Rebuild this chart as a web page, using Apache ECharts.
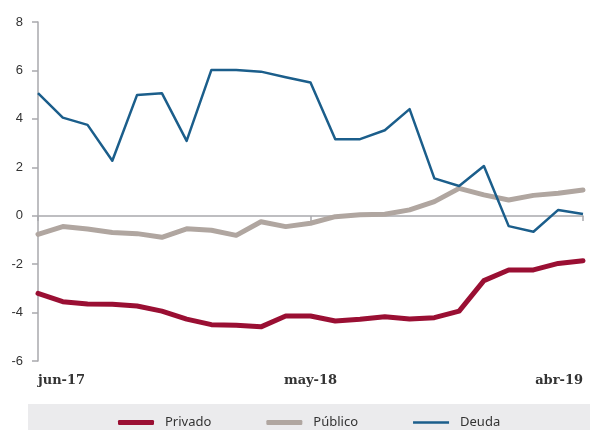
<!DOCTYPE html>
<html>
<head>
<meta charset="utf-8">
<script src="https://cdn.jsdelivr.net/npm/echarts@6/dist/echarts.min.js"></script>
<style>
  html, body { margin: 0; padding: 0; background: #fff; }
  #chart { width: 590px; height: 430px; }
</style>
</head>
<body>
<div id="chart"></div>
<script>
// Monthly series, jun-17 to abr-19
const months = [
  'jun-17', 'jul-17', 'ago-17', 'sep-17', 'oct-17', 'nov-17', 'dic-17',
  'ene-18', 'feb-18', 'mar-18', 'abr-18', 'may-18', 'jun-18', 'jul-18',
  'ago-18', 'sep-18', 'oct-18', 'nov-18', 'dic-18', 'ene-19', 'feb-19',
  'mar-19', 'abr-19'
];
const privado = [
  -3.21, -3.55, -3.65, -3.66, -3.73, -3.94, -4.27, -4.50, -4.52, -4.59, -4.14, -4.14,
  -4.35, -4.28, -4.17, -4.27, -4.21, -3.94, -2.68, -2.24, -2.24, -1.97, -1.86
];
const publico = [
  -0.77, -0.45, -0.55, -0.69, -0.74, -0.89, -0.54, -0.60, -0.81, -0.25, -0.45, -0.31,
  -0.04, 0.04, 0.06, 0.24, 0.58, 1.13, 0.86, 0.65, 0.84, 0.93, 1.06
];
const deuda = [
  5.06, 4.05, 3.75, 2.27, 4.99, 5.06, 3.09, 6.02, 6.02, 5.95, 5.72, 5.50,
  3.16, 3.16, 3.53, 4.40, 1.54, 1.23, 2.05, -0.43, -0.66, 0.24, 0.07
];
const yTicks = { min: -6, max: 8, step: 2 };

const colors = { privado: '#9a0f33', publico: '#b0a6a0', deuda: '#1b5e8b' };
const axisGray = '#a9a9ad';

const chart = echarts.init(document.getElementById('chart'), null, { renderer: 'canvas' });

chart.setOption({
  animation: false,
  backgroundColor: '#ffffff',
  graphic: [{
    type: 'rect',
    z: -10,
    shape: { x: 28, y: 404, width: 562, height: 26 },
    style: { fill: '#ebebed' }
  }],
  grid: { left: 38, right: 7, top: 22, bottom: 69, containLabel: false, outerBoundsMode: 'none' },
  legend: {
    top: 411,
    left: 113,
    itemGap: 55,
    itemWidth: 36,
    itemHeight: 5,
    symbolKeepAspect: true,
    textStyle: { fontFamily: 'Noto Sans', fontSize: 13, color: '#333', padding: [0, 0, 0, 6] },
    data: [
      { name: 'Privado', icon: 'roundRect', itemStyle: { color: colors.privado } },
      { name: 'Público', icon: 'roundRect', itemStyle: { color: colors.publico } },
      { name: 'Deuda', icon: 'path://M0,0 H72 V5 H0 Z', itemStyle: { color: colors.deuda } }
    ]
  },
  xAxis: [{
    // month labels along the foot of the plot
    type: 'category',
    data: months,
    position: 'bottom',
    boundaryGap: false,
    axisLine: { show: false, onZero: false },
    axisTick: { show: false },
    axisLabel: {
      interval: 10,
      margin: 13,
      alignMinLabel: 'left',
      alignMaxLabel: 'right',
      fontFamily: 'DejaVu Serif',
      fontWeight: 'bold',
      fontSize: 13,
      color: '#333'
    },
    splitLine: { show: false }
  }, {
    // zero baseline (8 of 14 units below the top edge), ticks hanging down
    type: 'category',
    data: months,
    position: 'top',
    offset: -194,
    boundaryGap: false,
    axisLine: { show: true, onZero: false, lineStyle: { color: axisGray, width: 1.5 } },
    axisTick: { show: true, inside: true, interval: 10, length: 5, lineStyle: { color: axisGray, width: 1.5 } },
    axisLabel: { show: false },
    splitLine: { show: false }
  }],
  yAxis: {
    type: 'value',
    min: yTicks.min,
    max: yTicks.max,
    interval: yTicks.step,
    axisLine: { show: true, lineStyle: { color: axisGray, width: 1.5 } },
    axisTick: { show: true, length: 6, lineStyle: { color: axisGray, width: 1.5 } },
    axisLabel: { margin: 15, fontFamily: 'Liberation Sans', fontSize: 13, color: '#333' },
    splitLine: { show: false }
  },
  series: [{
    name: 'Privado',
    type: 'line',
    data: privado,
    symbol: 'none',
    lineStyle: { color: colors.privado, width: 5, cap: 'round', join: 'round' },
    itemStyle: { color: colors.privado },
    z: 3
  }, {
    name: 'Público',
    type: 'line',
    data: publico,
    symbol: 'none',
    lineStyle: { color: colors.publico, width: 5, cap: 'round', join: 'round' },
    itemStyle: { color: colors.publico },
    z: 2
  }, {
    name: 'Deuda',
    type: 'line',
    data: deuda,
    symbol: 'none',
    lineStyle: { color: colors.deuda, width: 2.5, join: 'round' },
    itemStyle: { color: colors.deuda },
    z: 4
  }]
});
</script>
</body>
</html>
